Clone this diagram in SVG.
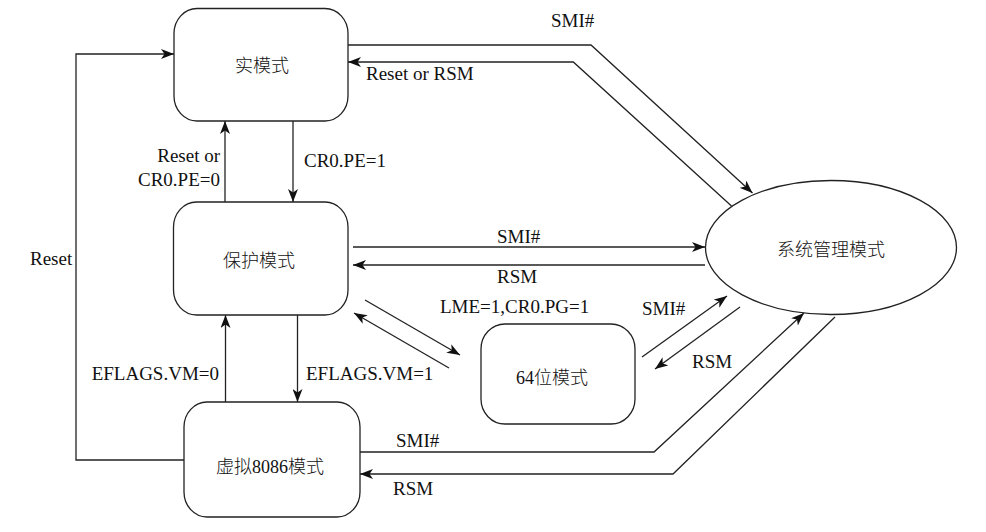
<svg xmlns="http://www.w3.org/2000/svg" width="986" height="532" viewBox="0 0 986 532">
<defs>
<marker id="arr" markerUnits="userSpaceOnUse" markerWidth="14" markerHeight="10" refX="13" refY="5" orient="auto">
<path d="M0,0 L13,5 L0,10 L3.5,5 Z" fill="#111"/>
</marker>
<style>
.box{fill:#fff;stroke:#222;stroke-width:1.3}
.ln{fill:none;stroke:#222;stroke-width:1.3}
.a{marker-end:url(#arr)}
.t{font-family:"Liberation Serif","Noto Sans CJK SC",serif;font-size:19px;fill:#111}
.c{font-family:"Liberation Serif","Noto Sans CJK SC",serif;font-size:18px;font-weight:300;fill:#111;text-anchor:middle;dominant-baseline:central}
</style>
</defs>
<rect width="986" height="532" fill="#fff"/>
<g id="connectors">
<polyline class="ln a" points="348,45 591,45 752.5,193"/>
<polyline class="ln a" points="731.5,206 573.3,62 348,62"/>
<line class="ln a" x1="293" y1="121" x2="293" y2="202"/>
<line class="ln a" x1="225" y1="202" x2="225" y2="121"/>
<line class="ln a" x1="353" y1="247" x2="705" y2="247"/>
<line class="ln a" x1="705" y1="265" x2="353" y2="265"/>
<line class="ln a" x1="365" y1="300" x2="460" y2="355"/>
<line class="ln a" x1="449" y1="368" x2="354" y2="313"/>
<line class="ln a" x1="642" y1="357" x2="727" y2="296"/>
<line class="ln a" x1="740" y1="307" x2="655" y2="369"/>
<line class="ln a" x1="297.5" y1="315" x2="297.5" y2="402"/>
<line class="ln a" x1="225.5" y1="402" x2="225.5" y2="315"/>
<polyline class="ln a" points="360,452 654,452 804,313"/>
<polyline class="ln a" points="835,317 673,474 360,474"/>
<polyline class="ln a" points="184,460 76,460 76,54 174,54"/>
<text class="t" x="551" y="27">SMI#</text>
<text class="t" x="366" y="80">Reset or RSM</text>
<text class="t" x="220" y="162" text-anchor="end">Reset or</text>
<text class="t" x="220" y="186" text-anchor="end">CR0.PE=0</text>
<text class="t" x="304" y="167">CR0.PE=1</text>
<text class="t" x="30" y="265">Reset</text>
<text class="t" x="497" y="243">SMI#</text>
<text class="t" x="497" y="283">RSM</text>
<text class="t" x="440" y="313">LME=1,CR0.PG=1</text>
<text class="t" x="642" y="315">SMI#</text>
<text class="t" x="692" y="368">RSM</text>
<text class="t" x="219" y="380" text-anchor="end">EFLAGS.VM=0</text>
<text class="t" x="306" y="380">EFLAGS.VM=1</text>
<text class="t" x="396" y="447">SMI#</text>
<text class="t" x="393" y="495">RSM</text>
</g>
<g id="real">
<rect class="box" x="174" y="8.5" width="174" height="112.5" rx="23" ry="25"/>
<text class="c" x="262" y="66">实模式</text>
</g>
<g id="protect">
<rect class="box" x="173.5" y="202" width="174.5" height="113" rx="23" ry="25"/>
<text class="c" x="259" y="261">保护模式</text>
</g>
<g id="mode64">
<rect class="box" x="481" y="324" width="154" height="100" rx="24" ry="25"/>
<text class="c" x="552" y="378">64位模式</text>
</g>
<g id="v8086">
<rect class="box" x="184" y="402" width="176" height="115" rx="23" ry="25"/>
<text class="c" x="270" y="467">虚拟8086模式</text>
</g>
<g id="smm">
<ellipse class="box" cx="831" cy="247.5" rx="125.5" ry="67"/>
<text class="c" x="831" y="250">系统管理模式</text>
</g>
</svg>
